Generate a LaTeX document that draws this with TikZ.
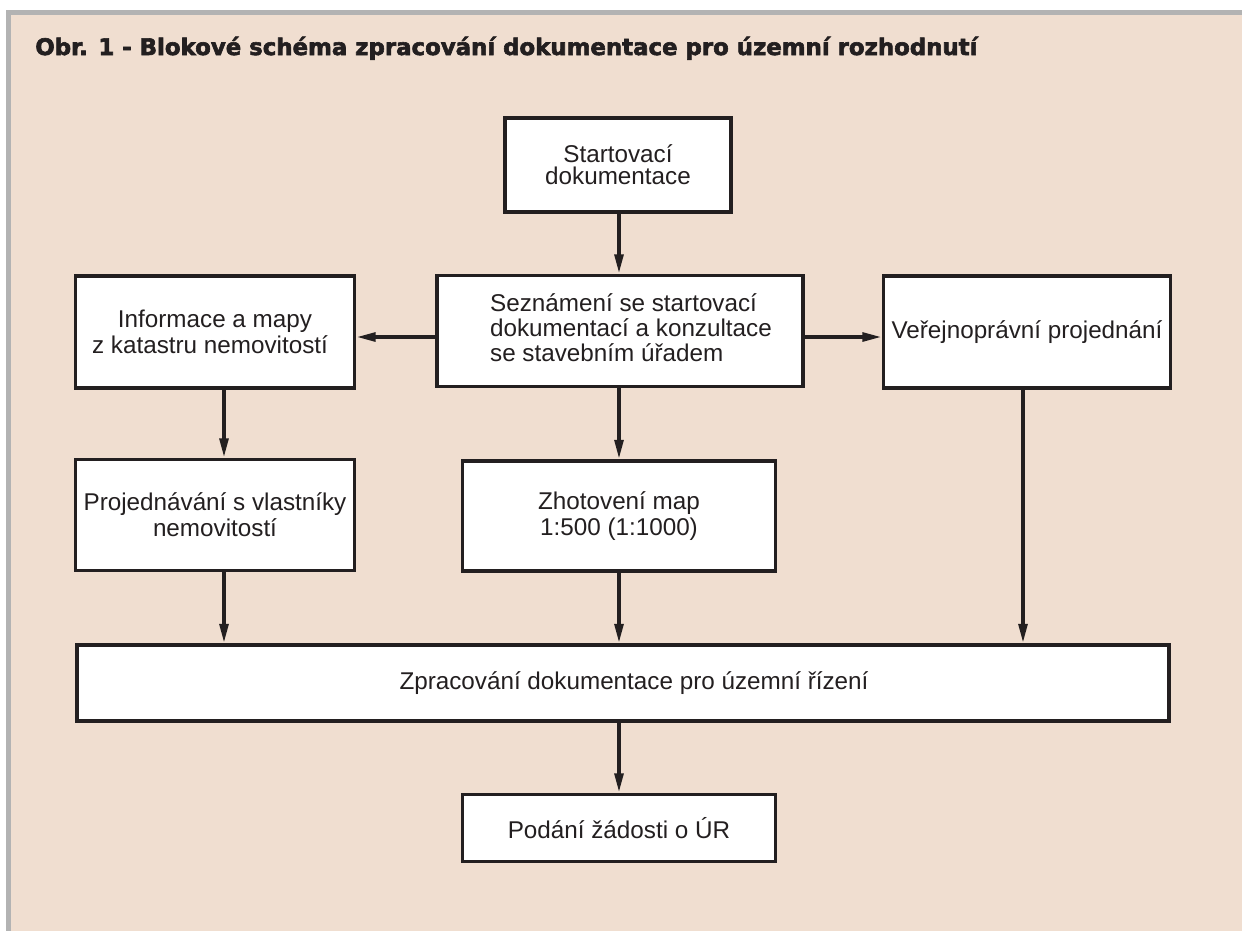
\documentclass[tikz,border=0pt]{standalone}
\usepackage{fontspec}
\setmainfont{Liberation Sans}
\newfontfamily\titlefont[FakeBold=2.6]{DejaVu Sans Bold}
\usetikzlibrary{arrows.meta}

\definecolor{paper}{RGB}{240,222,208}
\definecolor{frame}{RGB}{179,179,179}
\definecolor{ink}{RGB}{35,31,32}

\tikzset{
  block/.style={draw=ink, line width=2.2pt, fill=white, inner sep=0pt, align=center,
    text=ink, font=\fontsize{13.8}{14.8}\selectfont},
  flow/.style={draw=ink, line width=2pt, -{Triangle[length=11pt, width=5pt]}},
}

\begin{document}
\begin{tikzpicture}[x=0.02cm, y=-0.02cm]
  \useasboundingbox (0,0) rectangle (1242,931);

  % Frame
  \fill[frame] (6,10) rectangle (1242,931);
  \fill[paper] (11,15) rectangle (1242,931);
  \node[anchor=base west, inner sep=0pt, text=ink, font=\titlefont\fontsize{13}{16}\selectfont]
    (title) at (35,55) {Obr. 1 - Blokové schéma zpracování dokumentace pro územní rozhodnutí};

  % Blocks
  \node[block, minimum width=4.52cm, minimum height=1.88cm, font=\fontsize{13.8}{12.6}\selectfont] (start) at (618,165)
    {Startovací\\dokumentace};
  \node[block, minimum width=7.32cm, minimum height=2.22cm, align=left] (sezn) at (620,331)
    {\hspace*{0.44cm}\def\arraystretch{0.9}\begin{tabular}{@{}l@{}}Seznámení se startovací\\dokumentací a konzultace\\se stavebním úřadem\end{tabular}};
  \node[block, minimum width=5.58cm, minimum height=2.24cm] (info) at (215,332)
    {Informace a mapy\\z katastru nemovitostí\hspace*{0.2cm}};
  \node[block, minimum width=5.74cm, minimum height=2.24cm] (verej) at (1027,332)
    {Veřejnoprávní projednání};
  \node[block, minimum width=5.58cm, minimum height=2.22cm] (projed) at (215,515)
    {Projednávání s vlastníky\\nemovitostí};
  \node[block, minimum width=6.26cm, minimum height=2.20cm] (zhot) at (619,516)
    {Zhotovení map\\1:500 (1:1000)};
  \node[block, minimum width=21.86cm, minimum height=1.52cm] (zprac) at (623,683)
    {\hspace*{0.44cm}Zpracování dokumentace pro územní řízení};
  \node[block, minimum width=6.26cm, minimum height=1.34cm] (podani) at (619,828)
    {Podání žádosti o ÚR};

  % Arrows
  \coordinate (colL) at (224,0);
  \coordinate (colM) at (619,0);
  \coordinate (colR) at (1023,0);
  \coordinate (row) at (0,337);
  \foreach \a/\b/\c in {start/sezn/colM, sezn/zhot/colM, zhot/zprac/colM, zprac/podani/colM,
                        info/projed/colL, projed/zprac/colL, verej/zprac/colR}
    \draw[flow] (\a.south -| \c) -- (\b.north -| \c);
  \foreach \b/\s/\t in {info/west/east, verej/east/west}
    \draw[flow] (sezn.\s |- row) -- (\b.\t |- row);
\end{tikzpicture}
\end{document}
